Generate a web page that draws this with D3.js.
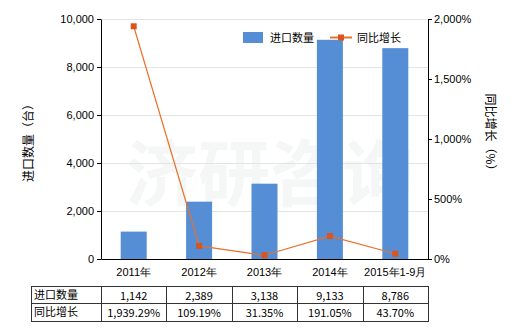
<!DOCTYPE html>
<html>
<head>
<meta charset="utf-8">
<script src="https://cdn.jsdelivr.net/npm/d3@7"></script>
<style>
  body { margin: 0; background: #fff; }
  svg { font-family: "Noto Sans CJK SC", "DejaVu Sans", sans-serif; }
</style>
</head>
<body>
<div class="chart"></div>
<script>
// dimensions
const width = 520;
const height = 330;
const margin = { top: 19, right: 92, bottom: 71, left: 101 };

// données
const annees = ["2011年", "2012年", "2013年", "2014年", "2015年1-9月"];
const quantites = [1142, 2389, 3138, 9133, 8786];
const croissance = [1939.29, 109.19, 31.35, 191.05, 43.70];
const ticksGauche = [0, 2000, 4000, 6000, 8000, 10000];
const ticksDroite = [0, 500, 1000, 1500, 2000];
const quantLabels = ["1,142", "2,389", "3,138", "9,133", "8,786"];
const croisLabels = ["1,939.29%", "109.19%", "31.35%", "191.05%", "43.70%"];

const barColor = "#558ed5";
const lineColor = "#e8702a";
const markColor = "#d9541e";

const svg = d3.select('.chart')
  .append('svg')
  .attr('width', width)
  .attr('height', height)
  .style('font-size', '11px');

// une bande par année (tableau, barres, points)
const x = d3.scaleBand()
  .domain(annees)
  .range([margin.left, width - margin.right]);

const yL = d3.scaleLinear()
  .domain([0, 10000])
  .range([height - margin.bottom, margin.top]);

const yR = d3.scaleLinear()
  .domain([0, 2000])
  .range([height - margin.bottom, margin.top]);

const cx = d => x(d) + x.bandwidth() / 2;

// filigrane
svg.append('text')
  .attr('x', 270).attr('y', 200)
  .attr('text-anchor', 'middle')
  .style('font-size', '72px')
  .style('font-weight', 'bold')
  .style('fill', '#f5f6f6')
  .text('济研咨询');

// grille
svg.append('g')
  .selectAll('line')
  .data(ticksGauche.slice(1))
  .join('line')
    .attr('x1', margin.left)
    .attr('x2', width - margin.right)
    .attr('y1', d => yL(d) + 0.5)
    .attr('y2', d => yL(d) + 0.5)
    .style('stroke', '#e4e4e4');

// barres
svg.append('g')
  .selectAll('rect')
  .data(annees)
  .join('rect')
    .attr('x', d => cx(d) - 13)
    .attr('width', 26)
    .attr('y', (d, i) => yL(quantites[i]))
    .attr('height', (d, i) => yL(0) - yL(quantites[i]))
    .style('fill', barColor);

// axes
const axeG = svg.append('g')
  .attr('transform', `translate(${margin.left}, 0)`)
  .call(d3.axisLeft(yL).tickValues(ticksGauche).tickSize(4).tickSizeOuter(0).tickPadding(3).tickFormat(d3.format(',')));

const axeD = svg.append('g')
  .attr('transform', `translate(${width - margin.right}, 0)`)
  .call(d3.axisRight(yR).tickValues(ticksDroite).tickSize(4).tickSizeOuter(0).tickPadding(2).tickFormat(d => d3.format(',')(d) + '%'));

const axeB = svg.append('g')
  .attr('transform', `translate(0, ${height - margin.bottom})`)
  .call(d3.axisBottom(x).tickSize(0).tickPadding(9));

[axeG, axeD, axeB].forEach(g => {
  g.style('font-family', null).style('font-size', '11px');
  g.selectAll('text').style('fill', '#000');
  g.selectAll('line, path').style('stroke', '#000');
});

// ligne de croissance
const line = d3.line()
  .x((d, i) => cx(annees[i]))
  .y(d => yR(d));

svg.append('path')
  .datum(croissance)
  .attr('d', line)
  .style('fill', 'none')
  .style('stroke', lineColor)
  .style('stroke-width', 1.2);

svg.append('g')
  .selectAll('rect')
  .data(croissance)
  .join('rect')
    .attr('x', (d, i) => cx(annees[i]) - 3)
    .attr('y', d => yR(d) - 3)
    .attr('width', 6)
    .attr('height', 6)
    .style('fill', markColor);

// titres des axes
svg.append('text')
  .attr('transform', 'translate(33, 140) rotate(-90)')
  .attr('text-anchor', 'middle')
  .style('font-size', '12px')
  .text('进口数量（台）');

svg.append('text')
  .attr('transform', 'translate(486, 135) rotate(90)')
  .attr('text-anchor', 'middle')
  .style('font-size', '12px')
  .text('同比增长（%）');

// légende
const leg = svg.append('g');
leg.append('rect').attr('x', 243).attr('y', 32).attr('width', 20).attr('height', 11).style('fill', barColor);
leg.append('text').attr('x', 270).attr('y', 42).style('font-size', '11px').text('进口数量');
leg.append('line').attr('x1', 330).attr('x2', 352).attr('y1', 37.5).attr('y2', 37.5).style('stroke', lineColor).style('stroke-width', 2);
leg.append('rect').attr('x', 338).attr('y', 34.5).attr('width', 6).attr('height', 6).style('fill', markColor);
leg.append('text').attr('x', 357).attr('y', 42).style('font-size', '11px').text('同比增长');

// tableau
const tableLeft = 31;
const rows = [286, 303, 321];
const tbl = svg.append('g').style('stroke', '#333');
rows.forEach(yv => tbl.append('line').attr('x1', tableLeft).attr('x2', width - margin.right).attr('y1', yv + 0.5).attr('y2', yv + 0.5));
const cols = [tableLeft, ...annees.map(a => x(a)), width - margin.right];
cols.forEach(xv => tbl.append('line').attr('x1', Math.round(xv) + 0.5).attr('x2', Math.round(xv) + 0.5).attr('y1', rows[0]).attr('y2', rows[2] + 1));

const rowData = [["进口数量", quantLabels], ["同比增长", croisLabels]];
rowData.forEach(([titre, vals], r) => {
  const yText = rows[r] + 13;
  svg.append('text').attr('x', tableLeft + 3).attr('y', yText).style('font-size', '11px').text(titre);
  svg.append('g').selectAll('text')
    .data(vals)
    .join('text')
      .attr('x', (d, i) => cx(annees[i]))
      .attr('y', yText + 1)
      .attr('text-anchor', 'middle')
      .style('font-size', '11px')
      .text(d => d);
});
</script>
</body>
</html>
